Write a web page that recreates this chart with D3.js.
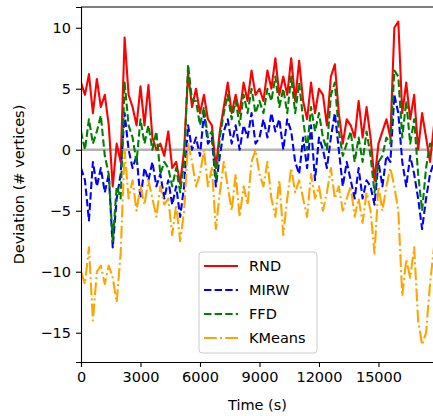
<!DOCTYPE html>
<html>
<head>
<meta charset="utf-8">
<script src="https://cdn.jsdelivr.net/npm/d3@7"></script>
<style>
	body { margin: 0; background: #fff; }
	svg { display: block; font-family: "DejaVu Sans", sans-serif; }
</style>
</head>
<body>
<div id="wrapper"></div>
<script>
// time step between samples (s)
const step = 200;

const rnd = [5.5, 4.5, 6.2, 3, 5.8, 3.5, 4.5, 2, -3, 0.5,
	-1, 9.2, 4.5, 3.5, 2, 5.2, 2, 5.3, 1, 0,
	0.5, -0.5, 1.5, -1.5, -1, -2.8, 0, 6.3, 3.5, 5,
	3, 4.5, 2.5, 2, -1.5, 1.5, 3.5, 5.5, 3, 4.5,
	3, 5.5, 4, 6.5, 4.5, 5, 4, 6.5, 5, 7.5,
	4.5, 6, 4.5, 7.5, 4, 7.3, 4, 2.5, 5.5, 3,
	5, 4.5, 2, 6, 7, 3, 0.5, 2.5, 2, 1,
	4, 1, 3.5, 1, -2.5, 0.5, 1.5, 2.5, 1, 10,
	10.5, 3, 5.5, 2.5, 4.5, 0, 3, 1, -1, 2];

const mirw = [-1.5, -2.5, -5.8, -1, -3, -1.5, -3.5, -2, -8, -4,
	-2, 3, 0, -1.5, -0.5, -4, -1.5, -2.5, -1, -3,
	-2, -4, -2.5, -4.5, -3, -5.5, -3, 2, 0, 1,
	-0.5, 3, 0.5, 1, -3, -0.5, 1.5, 2.5, 0.5, 2,
	0, 2, 1, 3, 0.5, 1, 2.5, 1, 3, 1.5,
	2.5, 0, 2.5, 1.5, -1, -2, 1, -1.5, 2, -2.5,
	1, 0, -1.5, 1, 3, 0, -3, -1, -2.5, -4,
	-1.5, -4, -2.5, -3, -4.5, -1, -3, -0.5, -1, 4.5,
	3, -1, -3, -0.5, -2, -4, -6.5, -4, -2, -1];

const ffd = [1.5, 0, 2.5, 0.5, 1.5, 2.8, -0.5, -2, -7.5, -3,
	-4, 5.5, 2, 1, -1, 2.5, 0.5, 2, 0, 1.5,
	-2, -1, -1.5, -3, -1.5, -3.5, -1, 7, 4, 4,
	2, 3.5, 1, 1.5, -2.5, 1, 3, 4.5, 2.5, 4,
	2, 4.5, 3, 5, 3, 4, 3, 5, 4, 6,
	3.5, 5, 3, 6, 3, 5.5, 2.5, 0, 3.5, 1.5,
	3, 1, 0, 4.5, 5.5, 1.5, -0.5, 0.5, 1.5, -1,
	1, -1, 1.5, -0.5, -3.5, -1, -0.5, 1, 0.5, 6.5,
	6, 1, 4, 0.5, 2.5, -2, -5, -1.5, 0.5, 0];

const kmeans = [-10, -11, -8, -14, -10, -9.5, -11, -9.5, -10.5, -12.5,
	-8.5, 0, -4, -2.5, -5, -3, -4.5, -2.5, -4, -5.5,
	-3, -4.5, -4, -7, -4.5, -7.5, -5, 0.5, -1, -3,
	-2, 0, -3, -1.5, -6.5, -3.5, -1, -3, -5, -2,
	-5.5, -3, -4.5, -1, 0, -2, -3, -1, -4, -5.5,
	-2.5, -7, -4, -1.5, -3.5, -2.5, -4, -5.5, -2, -4,
	-3, -5, -3.5, -1.5, -4, -3, -5, -4, -3, -5.5,
	-4, -6, -3.5, -5, -8.5, -3, -5, -3, -1.5, -3,
	-5, -12, -9, -10.5, -8, -14, -16, -15, -11, -8];

const seriesNames = ["RND", "MIRW", "FFD", "KMeans"];
const seriesValues = [rnd, mirw, ffd, kmeans];
const seriesColors = ["#ff0000", "#0000ff", "#008000", "#ffa500"];
const seriesDash = ["", "7.4,3.2", "7.4,3.2", "12.8,3.2,2,3.2"];

const xTicks = [0, 3000, 6000, 9000, 12000, 15000];
const yTicks = [-15, -10, -5, 0, 5, 10];
const xDomain = [0, 17800];
const yDomain = [-17.4, 11.7];

const dimensions = {
	width: 433,
	height: 416,
	margins: { top: 7, right: -1, bottom: 54, left: 81 },
};
dimensions.boundedWidth =
	dimensions.width - dimensions.margins.left - dimensions.margins.right;
dimensions.boundedHeight =
	dimensions.height - dimensions.margins.top - dimensions.margins.bottom;

const svg = d3
	.select("#wrapper")
	.append("svg")
	.attr("width", dimensions.width)
	.attr("height", dimensions.height);

const bounds = svg
	.append("g")
	.attr("transform", `translate(${dimensions.margins.left}, ${dimensions.margins.top})`);

bounds
	.append("clipPath")
	.attr("id", "clip")
	.append("rect")
	.attr("width", dimensions.boundedWidth)
	.attr("height", dimensions.boundedHeight);

const xScale = d3.scaleLinear().domain(xDomain).range([0, dimensions.boundedWidth]);
const yScale = d3.scaleLinear().domain(yDomain).range([dimensions.boundedHeight, 0]);

const plot = bounds.append("g").attr("clip-path", "url(#clip)");

// zero reference line
plot
	.append("line")
	.attr("x1", 0)
	.attr("x2", dimensions.boundedWidth)
	.attr("y1", yScale(0))
	.attr("y2", yScale(0))
	.attr("stroke", "#808080")
	.attr("stroke-opacity", 0.6)
	.attr("stroke-width", 2.6);

const lineGenerator = d3
	.line()
	.x((d, i) => xScale(i * step))
	.y((d) => yScale(d));

seriesValues.forEach((vals, k) => {
	plot
		.append("path")
		.attr("d", lineGenerator(vals))
		.attr("fill", "none")
		.attr("stroke", seriesColors[k])
		.attr("stroke-width", 2.1)
		.attr("stroke-dasharray", seriesDash[k] || null)
		.attr("stroke-linejoin", "round");
});

// axes
const xAxis = bounds
	.append("g")
	.attr("transform", `translate(0, ${dimensions.boundedHeight})`)
	.call(d3.axisBottom(xScale).tickValues(xTicks).tickSize(5).tickPadding(5).tickFormat(d3.format("d")));

const yAxis = bounds
	.append("g")
	.call(d3.axisLeft(yScale).tickValues(yTicks).tickSize(5).tickPadding(5).tickFormat((d) => (d < 0 ? "\u2212" + Math.abs(d) : d)));

[xAxis, yAxis].forEach((ax) => {
	ax.select(".domain").attr("stroke", "#000").attr("stroke-width", 1.1);
	ax.selectAll(".tick line").attr("stroke", "#000").attr("stroke-width", 1.1);
	ax.selectAll(".tick text")
		.attr("fill", "#000")
		.style("font-family", "DejaVu Sans")
		.style("font-size", "14.5px");
});

// top spine
bounds
	.append("line")
	.attr("x1", 0)
	.attr("x2", dimensions.boundedWidth)
	.attr("y1", 0)
	.attr("y2", 0)
	.attr("stroke", "#000")
	.attr("stroke-width", 1.1);

svg
	.append("text")
	.attr("x", dimensions.margins.left + xScale(9000) - 2)
	.attr("y", 410)
	.attr("text-anchor", "middle")
	.style("font-size", "14.5px")
	.text("Time (s)");

svg
	.append("text")
	.attr("transform", `translate(24, ${dimensions.margins.top + dimensions.boundedHeight / 2}) rotate(-90)`)
	.attr("text-anchor", "middle")
	.style("font-size", "14.5px")
	.text("Deviation (# vertices)");

// legend
const legend = svg.append("g").attr("transform", "translate(199, 252)");
legend
	.append("rect")
	.attr("width", 118)
	.attr("height", 101)
	.attr("rx", 3)
	.attr("fill", "#fff")
	.attr("fill-opacity", 0.8)
	.attr("stroke", "#cccccc");

seriesNames.forEach((name, k) => {
	const y = 14 + k * 24;
	legend
		.append("line")
		.attr("x1", 5)
		.attr("x2", 39)
		.attr("y1", y)
		.attr("y2", y)
		.attr("stroke", seriesColors[k])
		.attr("stroke-width", 2.1)
		.attr("stroke-dasharray", seriesDash[k] || null);
	legend
		.append("text")
		.attr("x", 50)
		.attr("y", y + 5)
		.style("font-size", "14.5px")
		.text(name);
});
</script>
</body>
</html>
